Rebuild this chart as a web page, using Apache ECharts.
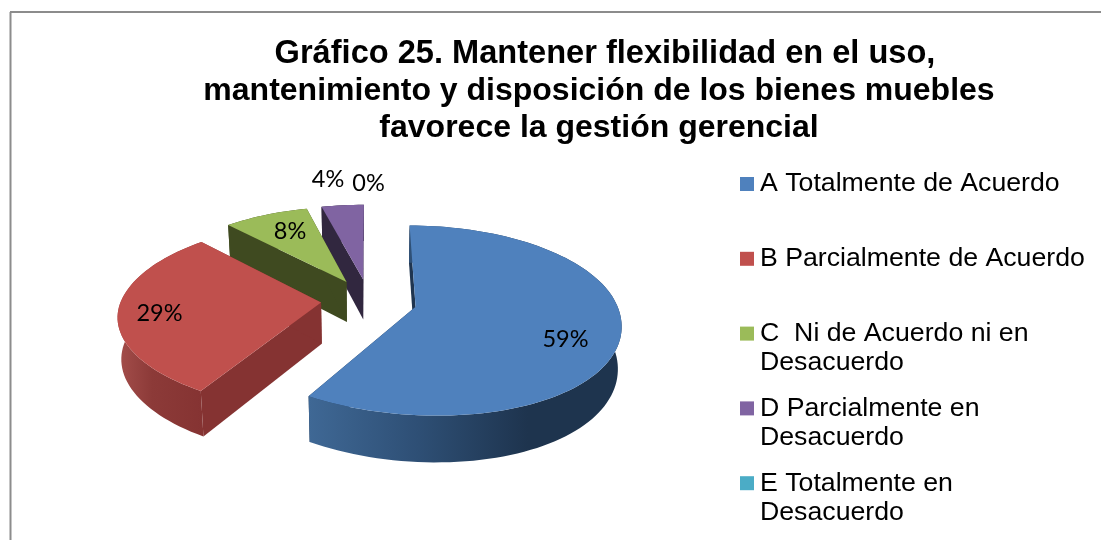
<!DOCTYPE html>
<html>
<head>
<meta charset="utf-8">
<style>html,body{margin:0;padding:0;background:#fff}#c{width:1101px;height:540px}</style>
<script src="https://cdn.jsdelivr.net/npm/echarts@6/dist/echarts.min.js"></script>
</head>
<body>
<div id="c"></div>
<script>
// ---- data ----
const TITLE_LINES = [
  'Gráfico 25. Mantener flexibilidad en el uso,',
  'mantenimiento y disposición de los bienes muebles',
  'favorece la gestión gerencial'
];
const CATEGORIES = [
  'A Totalmente de Acuerdo',
  'B Parcialmente de Acuerdo',
  'C  Ni de Acuerdo ni en\nDesacuerdo',
  'D Parcialmente en\nDesacuerdo',
  'E Totalmente en\nDesacuerdo'
];
const VALUES = [59, 29, 8, 4, 0];
const LABELS = ['59%', '29%', '8%', '4%', '0%'];

// ---- styles and layout ----
const TOP_COLORS = ['#4f81bd', '#c0504d', '#9bbb59', '#8064a2', '#4bacc6'];
const FACE_COLORS = ['#1f3550', '#853332', '#3f4a20', '#31273f', '#2a6070'];
const WALL_STOPS = [
  [[0, '#3f6895'], [0.35, '#2e4f75'], [0.7, '#1e344e'], [1, '#1e344e']],
  [[0, '#a44e4b'], [0.4, '#8c3a38'], [1, '#853332']],
  [[0, '#3f4a20'], [1, '#3f4a20']],
  [[0, '#31273f'], [1, '#31273f']],
  [[0, '#2a6070'], [1, '#2a6070']]
];
const DRAW_ORDER_Z = [5, 4, 3, 2, 1];
const LABEL_AT = [[565.5, 339], [159.5, 313], [290, 231], [328, 179], [368.5, 183]];
const VIEW = { cx: 369, cy: 300.5, a: 200, b: 91.2, persp: 0.145, explode: 0.24, depth: 41, lowerScale: 0.985, frontSkew: 12 };

const rad = d => d * Math.PI / 180;
const total = VALUES.reduce((s, v) => s + v, 0);

function project(X, Y, lower) {
  const w = 1 - VIEW.persp * Y;
  const k = lower ? VIEW.lowerScale : 1;
  const skew = Y > 0 ? VIEW.frontSkew * Y * Y : 0;
  return [
    VIEW.cx + k * VIEW.a * X / w + skew,
    VIEW.cy + k * VIEW.b * Y / w + (lower ? VIEW.depth / w : 0)
  ];
}

function sliceGeometry(index) {
  const before = VALUES.slice(0, index).reduce((s, v) => s + v, 0);
  const t0 = before / total * 360;
  const t1 = (before + VALUES[index]) / total * 360;
  const mid = rad((t0 + t1) / 2);
  const ox = VIEW.explode * Math.sin(mid), oy = -VIEW.explode * Math.cos(mid);
  const rim = t => [ox + Math.sin(rad(t)), oy - Math.cos(rad(t))];
  const upper = [], lower = [];
  const n = Math.max(2, Math.ceil((t1 - t0) / 2));
  for (let i = 0; i <= n; i++) {
    const p = rim(t0 + (t1 - t0) * i / n);
    upper.push(project(p[0], p[1], false));
    lower.push(project(p[0], p[1], true));
  }
  return { apexU: project(ox, oy, false), apexL: project(ox, oy, true), upper, lower };
}

function renderSlice(index) {
  return function () {
    const children = [];
    if (VALUES[index] > 0) {
      const g = sliceGeometry(index);
      const poly = (points, fill) => ({ type: 'polygon', shape: { points }, style: { fill, stroke: null } });
      const last = g.upper.length - 1;
      children.push(poly([g.apexU, g.upper[0], g.lower[0], g.apexL], FACE_COLORS[index]));
      children.push(poly([g.apexU, g.upper[last], g.lower[last], g.apexL], FACE_COLORS[index]));
      children.push(poly(g.upper.concat(g.lower.slice().reverse()), {
        type: 'linear', x: 0, y: 0, x2: 1, y2: 0,
        colorStops: WALL_STOPS[index].map(s => ({ offset: s[0], color: s[1] }))
      }));
      children.push(poly([g.apexU].concat(g.upper), TOP_COLORS[index]));
    }
    children.push({
      type: 'text',
      style: {
        text: LABELS[index], x: LABEL_AT[index][0], y: LABEL_AT[index][1],
        fill: '#000', font: '23.5px Lato', align: 'center', verticalAlign: 'middle'
      }
    });
    return { type: 'group', children };
  };
}

const LEGEND_X = 740, LEGEND_Y = 169.5, LEGEND_PITCH = 74.8, LINE_PITCH = 31.5, LEGEND_ROW = 29, LEGEND_FONT = 26.7;
const secondLines = [];
CATEGORIES.forEach((name, i) => {
  const parts = name.split('\n');
  if (parts[1]) {
    secondLines.push({
      type: 'text', left: LEGEND_X + 20, top: LEGEND_Y + LEGEND_PITCH * i + LINE_PITCH - 1,
      style: { text: parts[1], fill: '#000', font: LEGEND_FONT + 'px "Liberation Sans"' }
    });
  }
});

const chart = echarts.init(document.getElementById('c'), null, { renderer: 'canvas' });
chart.setOption({
  animation: false,
  backgroundColor: '#fff',
  title: {
    text: '{first|' + TITLE_LINES[0] + '}\n' + TITLE_LINES.slice(1).join('\n'),
    left: 594, top: 31, textAlign: 'center',
    textStyle: {
      fontFamily: 'Liberation Sans', fontWeight: 'bold', fontSize: 32, lineHeight: 37, color: '#000',
      rich: {
        first: { fontFamily: 'Liberation Sans', fontWeight: 'bold', fontSize: 32.6, lineHeight: 37, color: '#000', padding: [0, 0, 0, 12] }
      }
    }
  },
  legend: {
    orient: 'vertical', left: LEGEND_X, top: LEGEND_Y, padding: 0,
    itemWidth: 14, itemHeight: 14, itemGap: LEGEND_PITCH - LEGEND_ROW,
    icon: 'rect',
    data: CATEGORIES,
    selectedMode: false,
    formatter: name => name.split('\n')[0],
    textStyle: { fontFamily: 'Liberation Sans', fontSize: LEGEND_FONT, color: '#000', padding: [0, 0, 0, 1], lineHeight: LEGEND_ROW }
  },
  graphic: [
    { type: 'line', shape: { x1: 10.5, y1: 540, x2: 10.5, y2: 12 }, style: { stroke: '#8c8c8c', lineWidth: 2 } },
    { type: 'line', shape: { x1: 10, y1: 12, x2: 1101, y2: 12 }, style: { stroke: '#8c8c8c', lineWidth: 2 } }
  ].concat(secondLines),
  series: CATEGORIES.map((name, i) => ({
    type: 'custom',
    name,
    coordinateSystem: 'none',
    silent: true,
    z: DRAW_ORDER_Z[i],
    itemStyle: { color: TOP_COLORS[i] },
    data: [[VALUES[i]]],
    renderItem: renderSlice(i)
  }))
});
</script>
</body>
</html>
